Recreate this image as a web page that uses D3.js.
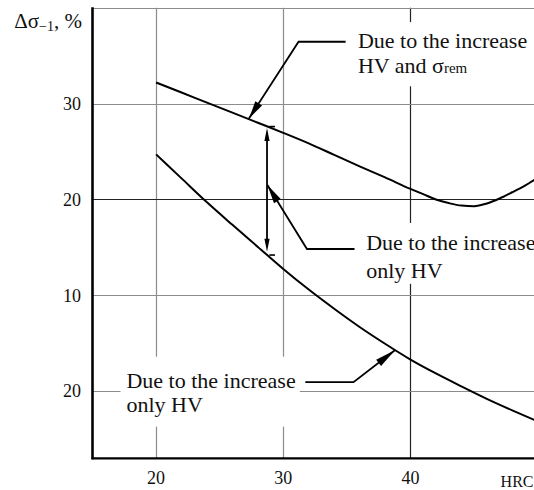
<!DOCTYPE html>
<html>
<head>
<meta charset="utf-8">
<script src="https://cdn.jsdelivr.net/npm/d3@7"></script>
</head>
<body style="margin:0;padding:0;background:#fff">
<svg id="chart" width="534" height="490" style="display:block"></svg>
<script>
// ---- data ----
const xTickValues = [20, 30, 40];
const xTickLabels = ["20", "30", "40"];
const yTickValues = [30, 20, 10, 0];
const yTickLabels = ["30", "20", "10", "20"];
const gridX = [20, 30, 40];
const gridY = [0, 10, 20, 30, 40];

// upper curve: due to the increase of HV and residual stress
const upperHRC = [20, 22, 24, 26, 28, 30, 32, 34, 36, 38, 40, 41, 42, 43, 44, 45, 46, 47, 48, 49, 49.75];
const upperVal = [32.2, 31.15, 30.1, 29.05, 28.0, 26.95, 25.85, 24.65, 23.45, 22.3, 21.1, 20.55, 20.0, 19.62, 19.36, 19.3, 19.58, 20.1, 20.75, 21.45, 22.05];

// lower curve: due to the increase of HV only
const lowerHRC = [20, 22, 24, 26, 28, 30, 32, 34, 36, 38, 40, 42, 44, 46, 48, 49.75];
const lowerVal = [24.7, 22.2, 19.7, 17.35, 15.05, 12.75, 10.6, 8.6, 6.7, 4.95, 3.3, 1.85, 0.5, -0.8, -2.0, -3.0];

// ---- layout ----
const FONT = '"Liberation Serif", serif';
const svg = d3.select("#chart");
const x = d3.scaleLinear().domain([15, 49.75]).range([92.5, 534.5]);
const y = d3.scaleLinear().domain([-7, 40]).range([458.3, 7.7]);

const GRID_LIGHT = "#8c8c8c";
const GRID_DARK = "#222";

// gridlines
svg.append("g").selectAll("line").data(gridX).join("line")
  .attr("x1", d => Math.round(x(d)) + 0.5).attr("x2", d => Math.round(x(d)) + 0.5)
  .attr("y1", y(-7)).attr("y2", y(40))
  .attr("stroke", d => d === 40 ? GRID_DARK : GRID_LIGHT)
  .attr("stroke-width", 1.2);
svg.append("g").selectAll("line").data(gridY).join("line")
  .attr("x1", x(15)).attr("x2", x(49.75))
  .attr("y1", d => Math.round(y(d)) + 0.5).attr("y2", d => Math.round(y(d)) + 0.5)
  .attr("stroke", d => d === 20 ? GRID_DARK : GRID_LIGHT)
  .attr("stroke-width", 1.2);

// white boxes behind labels (break the gridlines)
const boxes = [
  {x0: 35.3, x1: 49.75, y0: 38.5, y1: 31.8},
  {x0: 36.05, x1: 49.75, y0: 17.55, y1: 11.2},
  {x0: 17.2, x1: 31.3, y0: 3.6, y1: -3.7}
];
svg.append("g").selectAll("rect").data(boxes).join("rect")
  .attr("x", d => x(d.x0)).attr("y", d => y(d.y0))
  .attr("width", d => x(d.x1) - x(d.x0)).attr("height", d => y(d.y1) - y(d.y0))
  .attr("fill", "#fff");

// axes (thick L frame)
svg.append("line").attr("x1", x(15)).attr("x2", x(15))
  .attr("y1", y(40) - 0.5).attr("y2", y(-7) + 1)
  .attr("stroke", "#000").attr("stroke-width", 2.6);
svg.append("line").attr("x1", x(15) - 1).attr("x2", x(49.75))
  .attr("y1", y(-7)).attr("y2", y(-7))
  .attr("stroke", "#000").attr("stroke-width", 2.2);

// curves
const line = d3.line().x(d => x(d[0])).y(d => y(d[1])).curve(d3.curveMonotoneX);
svg.append("path").datum(upperHRC.map((h, i) => [h, upperVal[i]]))
  .attr("d", line).attr("fill", "none").attr("stroke", "#000").attr("stroke-width", 2);
svg.append("path").datum(lowerHRC.map((h, i) => [h, lowerVal[i]]))
  .attr("d", line).attr("fill", "none").attr("stroke", "#000").attr("stroke-width", 2);

// arrow helper
function arrowHead(g, tip, from, len, halfW) {
  const tx = x(tip[0]), ty = y(tip[1]);
  const fx = x(from[0]), fy = y(from[1]);
  const dx = tx - fx, dy = ty - fy;
  const L = Math.hypot(dx, dy);
  const ux = dx / L, uy = dy / L;
  const bx = tx - ux * len, by = ty - uy * len;
  const px = -uy * halfW, py = ux * halfW;
  g.append("polygon")
    .attr("points", [[tx, ty], [bx + px, by + py], [bx - px, by - py]].map(p => p.join(",")).join(" "))
    .attr("fill", "#000");
}
function leader(g, pts) {
  g.append("polyline")
    .attr("points", pts.map(p => [x(p[0]), y(p[1])].join(",")).join(" "))
    .attr("fill", "none").attr("stroke", "#000").attr("stroke-width", 1.8);
}

const ann = svg.append("g");

// annotation 1 (upper)
const a1 = [[34.9, 36.45], [31.2, 36.45], [27.3, 28.45]];
leader(ann, a1);
arrowHead(ann, a1[2], a1[1], 18, 4);

// double arrow between curves
const dArrowHRC = 28.72;
const dTop = 27.45, dBot = 14.55;
ann.append("line").attr("x1", x(dArrowHRC)).attr("x2", x(dArrowHRC))
  .attr("y1", y(dTop) + 6).attr("y2", y(dBot) - 6)
  .attr("stroke", "#000").attr("stroke-width", 1.8);
arrowHead(ann, [dArrowHRC, dTop], [dArrowHRC, dBot], 13, 2.6);
arrowHead(ann, [dArrowHRC, dBot], [dArrowHRC, dTop], 13, 2.6);
ann.append("line").attr("x1", x(28.9)).attr("x2", x(29.35))
  .attr("y1", y(27.6)).attr("y2", y(27.6)).attr("stroke", "#000").attr("stroke-width", 1.6);
ann.append("line").attr("x1", x(28.9)).attr("x2", x(29.35))
  .attr("y1", y(14.2)).attr("y2", y(14.2)).attr("stroke", "#000").attr("stroke-width", 1.6);

// annotation 2 (middle)
const a2 = [[35.6, 14.83], [31.86, 14.83], [28.75, 21.5]];
leader(ann, a2);
arrowHead(ann, a2[2], a2[1], 19, 4);

// annotation 3 (lower)
const a3 = [[31.73, 0.94], [35.52, 0.94], [38.8, 4.3]];
leader(ann, a3);
arrowHead(ann, a3[2], a3[1], 21, 4);

// labels
const fs = 22;
function label(xv, lines) {
  lines.forEach(l => {
    const t = svg.append("text").attr("x", x(xv)).attr("y", y(l.v))
      .attr("font-family", FONT).attr("font-size", fs).attr("fill", "#111");
    l.parts.forEach(p => {
      const ts = t.append("tspan").text(p.t);
      if (p.small) ts.attr("font-size", 15);
    });
  });
}
label(35.87, [
  {v: 35.8, parts: [{t: "Due to the increase"}]},
  {v: 33.2, parts: [{t: "HV and σ"}, {t: "rem", small: true}]}
]);
label(36.52, [
  {v: 14.73, parts: [{t: "Due to the increase"}]},
  {v: 11.8, parts: [{t: "only HV"}]}
]);
label(17.67, [
  {v: 0.33, parts: [{t: "Due to the increase"}]},
  {v: -2.15, parts: [{t: "only HV"}]}
]);

// y tick labels
svg.append("g").selectAll("text").data(yTickValues).join("text")
  .attr("x", 81).attr("y", d => y(d)).attr("dy", "0.35em")
  .attr("font-family", FONT)
  .attr("text-anchor", "end").attr("font-size", 18).attr("fill", "#111")
  .text((d, i) => yTickLabels[i]);

// x tick labels
svg.append("g").selectAll("text").data(xTickValues).join("text")
  .attr("x", d => x(d)).attr("y", 483.5)
  .attr("font-family", FONT)
  .attr("text-anchor", "middle").attr("font-size", 18).attr("fill", "#111")
  .text((d, i) => xTickLabels[i]);

// axis titles
svg.append("text").attr("x", 533.5).attr("y", 487).attr("text-anchor", "end")
  .attr("font-family", FONT)
  .attr("font-size", 16).attr("fill", "#111").text("HRC");

const yt = svg.append("text").attr("x", 82).attr("y", 27.7).attr("text-anchor", "end")
  .attr("font-family", FONT)
  .attr("font-size", 21).attr("fill", "#111");
yt.append("tspan").text("Δσ");
yt.append("tspan").attr("font-size", 14).attr("dy", 3).text("−1");
yt.append("tspan").attr("dy", -3).text(", %");
</script>
</body>
</html>
